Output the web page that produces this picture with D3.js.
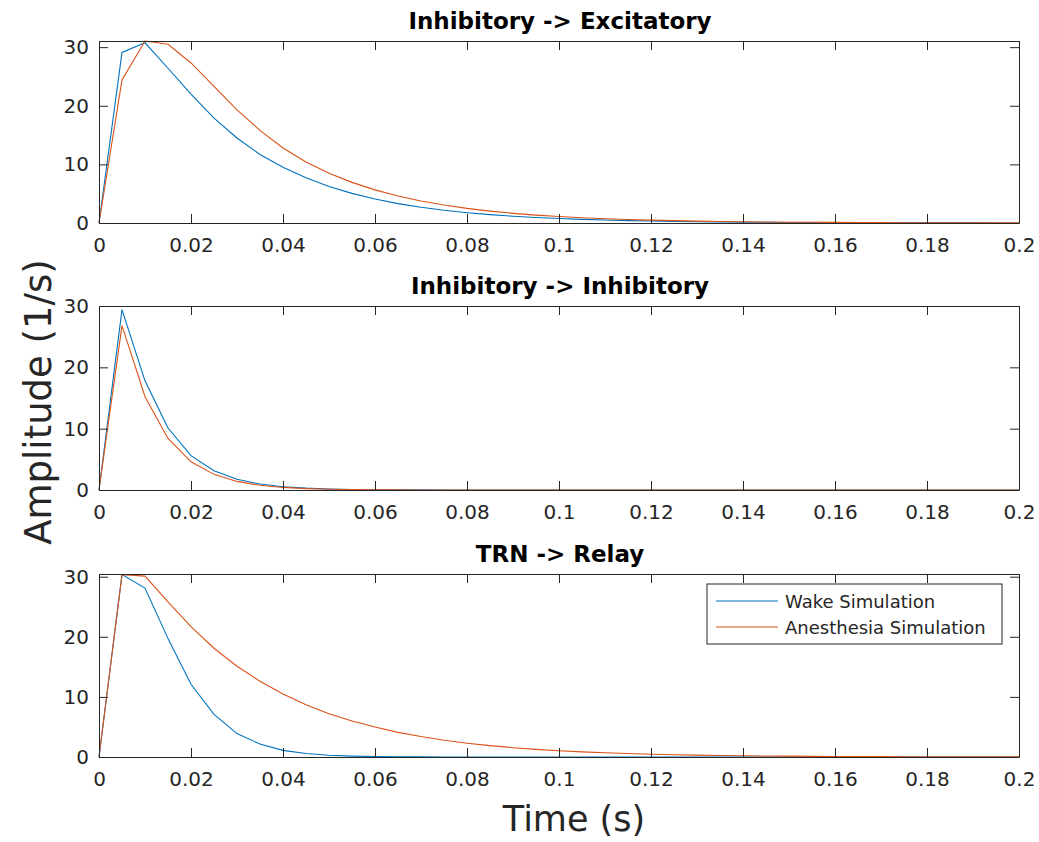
<!DOCTYPE html>
<html><head><meta charset="utf-8">
<script src="https://cdn.jsdelivr.net/npm/d3@7"></script>
<style>body{margin:0;background:#fff}svg{display:block}text{font-family:"DejaVu Sans",Verdana,sans-serif}</style>
</head><body>
<script>
// ---- data ----
const time = [0,0.005,0.01,0.015,0.02,0.025,0.03,0.035,0.04,0.045,0.05,0.055,0.06,0.065,0.07,0.075,0.08,0.085,0.09,0.095,0.1,0.105,0.11,0.115,0.12,0.125,0.13,0.135,0.14,0.145,0.15,0.155,0.16,0.165,0.17,0.175,0.18,0.185,0.19,0.195,0.2];
const panelTitles = ["Inhibitory -> Excitatory","Inhibitory -> Inhibitory","TRN -> Relay"];
const seriesNames = ["Wake Simulation","Anesthesia Simulation"];
const ieWake = [0,29.1,30.75,26.4,22.0,17.9,14.5,11.7,9.5,7.7,6.24,5.05,4.09,3.3,2.68,2.17,1.76,1.43,1.16,0.94,0.76,0.62,0.5,0.4,0.33,0.27,0.22,0.18,0.14,0.12,0.09,0.08,0.06,0.05,0.04,0.03,0.03,0.02,0.02,0.01,0.01];
const ieAnes = [0,24.4,31.05,30.5,27.3,23.3,19.3,15.8,12.8,10.4,8.5,6.93,5.65,4.6,3.75,3.06,2.49,2.03,1.65,1.35,1.1,0.9,0.73,0.6,0.49,0.4,0.32,0.26,0.21,0.17,0.14,0.12,0.1,0.08,0.06,0.05,0.04,0.035,0.03,0.02,0.02];
const iiWake = [0,29.4,17.8,10.1,5.6,3.15,1.75,0.97,0.54,0.3,0.17,0.09,0.05,0.03,0.02,0.01,0.005,0,0,0,0,0,0,0,0,0,0,0,0,0,0,0,0,0,0,0,0,0,0,0,0];
const iiAnes = [0,26.8,15.2,8.4,4.6,2.55,1.4,0.77,0.42,0.23,0.13,0.07,0.04,0.02,0.01,0.006,0.003,0,0,0,0,0,0,0,0,0,0,0,0,0,0,0,0,0,0,0,0,0,0,0,0];
const trWake = [0,30.35,28.1,19.7,12.1,7.1,3.9,2.15,1.1,0.58,0.3,0.15,0.08,0.04,0.02,0.01,0.005,0,0,0,0,0,0,0,0,0,0,0,0,0,0,0,0,0,0,0,0,0,0,0,0];
const trAnes = [0,30.35,30.1,25.8,21.7,18.1,15.1,12.6,10.5,8.7,7.2,6.0,5.0,4.1,3.4,2.8,2.3,1.9,1.55,1.27,1.04,0.85,0.7,0.57,0.47,0.38,0.31,0.25,0.21,0.17,0.14,0.11,0.09,0.075,0.06,0.05,0.04,0.035,0.03,0.02,0.02];
const yLimits = [31.05, 30, 30.45];
const xTicks = [0,0.02,0.04,0.06,0.08,0.1,0.12,0.14,0.16,0.18,0.2];
const xTickLabels = ["0","0.02","0.04","0.06","0.08","0.1","0.12","0.14","0.16","0.18","0.2"];
const yTicks = [0,10,20,30];
const xLabel = "Time (s)";
const yLabel = "Amplitude (1/s)";

const panels = [[ieWake, ieAnes],[iiWake, iiAnes],[trWake, trAnes]];
const colors = ["#0072BD","#D95319"];
const axisColor = "#262626";

const W = 1039, H = 842;
const left = 99, right = 1019;
const tops = [41, 306, 574], bottoms = [223, 490, 757];

const svg = d3.select("body").append("svg").attr("width", W).attr("height", H);
const x = d3.scaleLinear().domain([0, 0.2]).range([left, right]);

panels.forEach((series, p) => {
  const y = d3.scaleLinear().domain([0, yLimits[p]]).range([bottoms[p], tops[p]]);
  const g = svg.append("g");
  const line = d3.line().x((d, i) => x(time[i])).y(d => y(d));
  series.forEach((s, k) => {
    g.append("path").datum(s).attr("d", line).attr("fill", "none")
      .attr("stroke", colors[k]).attr("stroke-width", 1.1);
  });
  const styleAxis = sel => {
    sel.selectAll("path.domain").attr("stroke", axisColor).attr("stroke-width", 1);
    sel.selectAll(".tick line").attr("stroke", axisColor).attr("stroke-width", 1);
    sel.selectAll(".tick text").attr("fill", axisColor).style("font-size", "20px")
      .style("font-family", '"DejaVu Sans", Verdana, sans-serif');
  };
  g.append("g").attr("transform", `translate(0,${bottoms[p]})`)
    .call(d3.axisBottom(x).tickValues(xTicks).tickFormat((d, i) => xTickLabels[i]).tickSizeInner(-9).tickSizeOuter(0).tickPadding(15))
    .call(styleAxis);
  g.append("g").attr("transform", `translate(0,${tops[p]})`)
    .call(d3.axisTop(x).tickValues(xTicks).tickFormat("").tickSizeInner(-9).tickSizeOuter(0))
    .call(styleAxis);
  g.append("g").attr("transform", `translate(${left},0)`)
    .call(d3.axisLeft(y).tickValues(yTicks).tickFormat(d3.format("d")).tickSizeInner(-9).tickSizeOuter(0).tickPadding(10))
    .call(styleAxis);
  g.append("g").attr("transform", `translate(${right},0)`)
    .call(d3.axisRight(y).tickValues(yTicks).tickFormat("").tickSizeInner(-9).tickSizeOuter(0))
    .call(styleAxis);
  svg.append("text").attr("x", (left + right) / 2 + 1).attr("y", tops[p] - 12)
    .attr("text-anchor", "middle").attr("font-weight", "bold").attr("font-size", 23)
    .attr("fill", "#000").text(panelTitles[p]);
});

// legend (bottom panel)
const lg = svg.append("g").attr("transform", "translate(707,584)");
lg.append("rect").attr("width", 295).attr("height", 60).attr("fill", "#fff")
  .attr("stroke", axisColor).attr("stroke-width", 1);
seriesNames.forEach((n, k) => {
  const yy = 17 + k * 26;
  lg.append("line").attr("x1", 9).attr("x2", 71).attr("y1", yy).attr("y2", yy)
    .attr("stroke", colors[k]).attr("stroke-width", 1.1);
  lg.append("text").attr("x", 78).attr("y", yy + 6.5).attr("font-size", 18)
    .attr("fill", axisColor).text(n);
});

svg.append("text").attr("x", 574).attr("y", 831).attr("text-anchor", "middle")
  .attr("font-size", 35).attr("fill", axisColor).text(xLabel);
svg.append("text").attr("transform", "translate(51,402) rotate(-90)").attr("text-anchor", "middle")
  .attr("font-size", 37).attr("fill", axisColor).text(yLabel);
</script>
</body></html>
